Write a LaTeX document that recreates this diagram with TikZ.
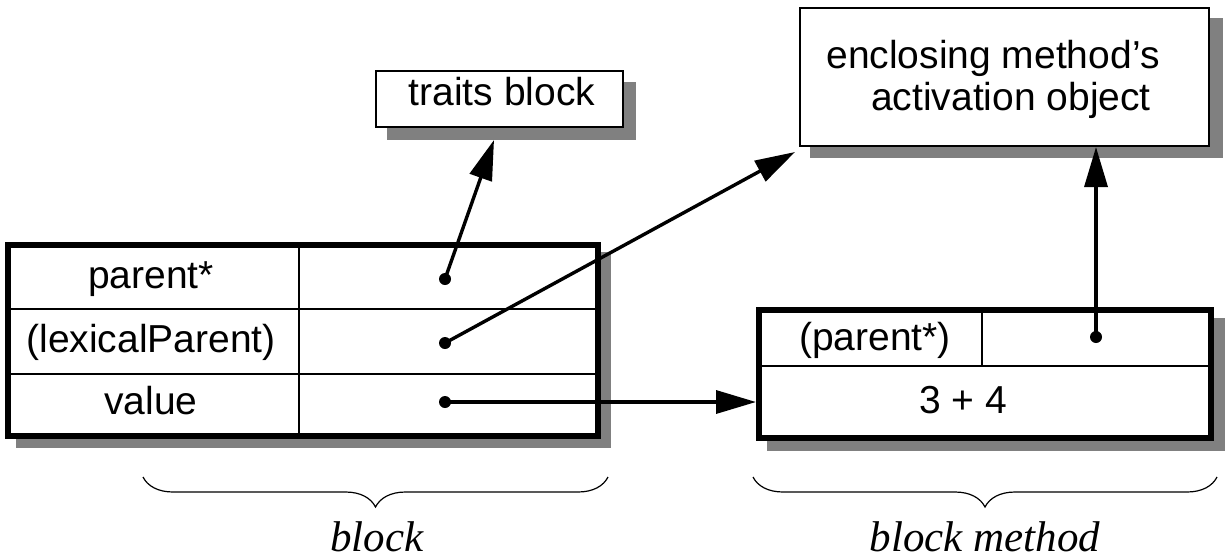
\documentclass[tikz,border=0pt]{standalone}
\usepackage{fontspec}
\setmainfont{Liberation Sans}
\newfontfamily\capfont{Liberation Serif}
\usetikzlibrary{arrows.meta,decorations.pathreplacing,calc}
\definecolor{shade}{gray}{0.5}

\begin{document}
\begin{tikzpicture}[x=0.5pt,y=-0.5pt,
  shadowbox/.style={fill=shade},
  frame/.style={draw=black, line width=2.8pt, fill=white, inner sep=0pt},
  thinframe/.style={draw=black, line width=0.8pt, fill=white, inner sep=0pt},
  cellrule/.style={line width=0.8pt},
  lbl/.style={font=\fontsize{19.5pt}{23pt}\selectfont, anchor=base, inner sep=0pt},
  captext/.style={font=\capfont\itshape\fontsize{21.5pt}{26pt}\selectfont, anchor=base, inner sep=0pt},
  ptr/.style={line width=1.7pt, -{Triangle[length=20pt,width=11.5pt]}},
  slot/.style={circle, fill=black, inner sep=0pt, minimum size=6pt},
  curly/.style={decorate, decoration={brace, mirror, amplitude=15pt}, line width=0.6pt},
]
\useasboundingbox[fill=white] (0,0) rectangle (1225,558);

% drop shadows
\fill[shadowbox] (387,82) rectangle (636,140);
\fill[shadowbox] (810,18) rectangle (1223,158);
\fill[shadowbox] (16,252) rectangle (611,448);
\fill[shadowbox] (767,318) rectangle (1225,451);

% boxes
\node[thinframe, minimum width=123.7pt, minimum height=28.2pt] (traits) at (499.5,99) {};
\node[thinframe, minimum width=204.7pt, minimum height=69.2pt] (encl) at (1004.5,77) {};
\node[frame, minimum width=295.2pt, minimum height=95.7pt] (blk) at (303,340.5) {};
\node[frame, minimum width=226.2pt, minimum height=64.2pt] (meth) at (985,374) {};

% cell rules of the block
\draw[cellrule] (blk.west |- 0,309) -- (blk.east |- 0,309);
\draw[cellrule] (blk.west |- 0,374) -- (blk.east |- 0,374);
\draw[cellrule] (299,0 |- blk.north) -- (299,0 |- blk.south);

% cell rules of the block method
\draw[cellrule] (meth.west |- 0,366) -- (meth.east |- 0,366);
\draw[cellrule] (982,0 |- meth.north) -- (982,366);

% texts
\node[lbl] (ttraits) at (502,105) {traits block};
\node[lbl] (tencla) at (993,68) {enclosing method’s};
\node[lbl] (tenclb) at (1011,110) {activation object};
\node[lbl] (tparent) at (151,288) {parent*};
\node[lbl] (tlex) at (151,352) {(lexicalParent)};
\node[lbl] (tvalue) at (151,414) {value};
\node[lbl] (tmparent) at (875,350) {(parent*)};
\node[lbl] (tcode) at (963,413) {3 + 4};

% slot dots
\node[slot] (d1) at (445,279) {};
\node[slot] (d2) at (445,343) {};
\node[slot] (d3) at (445,402) {};
\node[slot] (d4) at (1096,337) {};

% arrow ends
\coordinate (traitsin) at (494,140);
\coordinate (lexin) at (795,152);

% pointers
\draw[ptr] (d1.center) -- (traitsin);
\draw[ptr] (d2.center) -- (lexin);
\draw[ptr] (d3.center) -- (d3 -| meth.west);
\draw[ptr] (d4.center) -- (d4 |- encl.south);

% braces and captions
\coordinate (b1l) at (143,477);
\coordinate (b1r) at (608,477);
\coordinate (b2l) at (753,477);
\coordinate (b2r) at (1217,477);
\draw[curly] (b1l) -- (b1r);
\draw[curly] (b2l) -- (b2r);
\node[captext] (cblock) at (377,551) {block};
\node[captext] (cmeth) at (985,551) {block method};
\end{tikzpicture}
\end{document}
